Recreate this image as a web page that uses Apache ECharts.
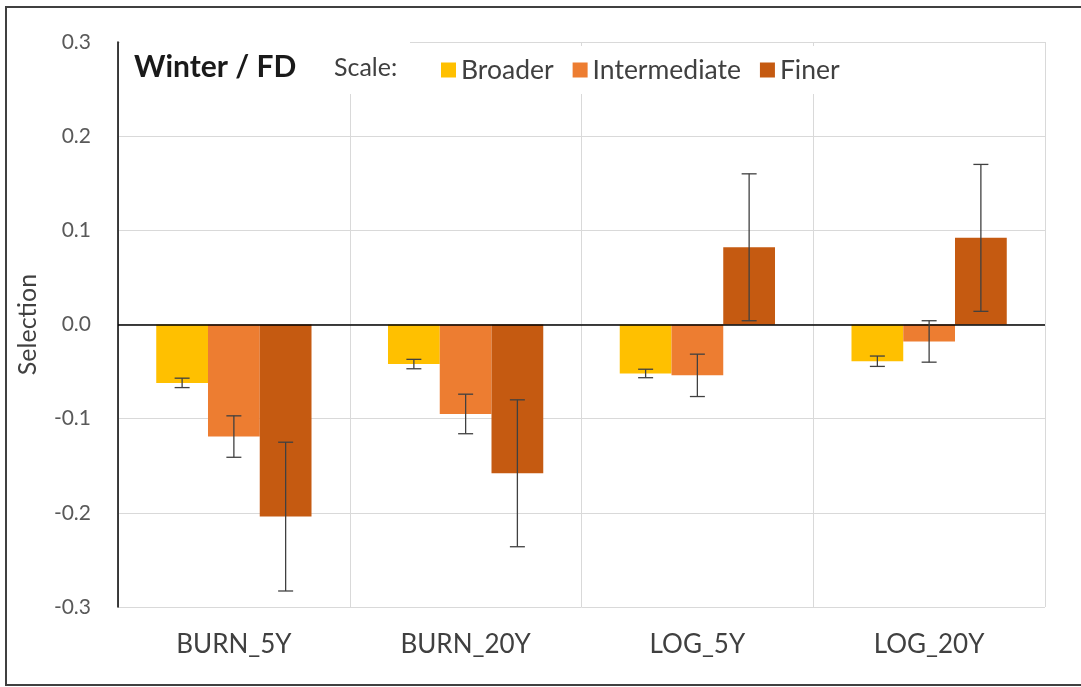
<!DOCTYPE html>
<html>
<head>
<meta charset="utf-8">
<script src="https://cdn.jsdelivr.net/npm/echarts@6/dist/echarts.min.js"></script>
<style>
  html, body { margin: 0; padding: 0; background: #ffffff; }
  #chart { width: 1081px; height: 687px; }
</style>
</head>
<body>
<div id="chart"></div>
<script>
// Habitat selection by treatment, three spatial scales (winter, FD)
const categories = ['BURN_5Y', 'BURN_20Y', 'LOG_5Y', 'LOG_20Y'];
const seriesNames = ['Broader', 'Intermediate', 'Finer'];

const broader = [-0.062, -0.042, -0.052, -0.039];
const broaderErr = [0.005, 0.005, 0.0045, 0.0055];

const intermediate = [-0.119, -0.095, -0.054, -0.018];
const intermediateErr = [0.022, 0.021, 0.0225, 0.022];

const finer = [-0.204, -0.158, 0.082, 0.092];
const finerErr = [0.079, 0.078, 0.078, 0.078];

const yTicks = [-0.3, -0.2, -0.1, 0.0, 0.1, 0.2, 0.3];

const colors = ['#FFC000', '#ED7D31', '#C55A11'];
const FONT = 'Lato, "Open Sans", sans-serif';
const CAT_GAP = 0.33;

const values = [broader, intermediate, finer];
const errors = [broaderErr, intermediateErr, finerErr];

// Error bars: vertical whisker with caps, offset to the matching bar in each group
function errorBarRenderer(pos) {
  return function (params, api) {
    const i = api.value(0);
    const v = api.value(1);
    const e = api.value(2);
    const catW = api.size([1, 0])[0];
    const bw = catW * (1 - CAT_GAP) / 3;
    const x = api.coord([i, v])[0] + (pos - 1) * bw;
    const yTop = api.coord([i, v + e])[1];
    const yBot = api.coord([i, v - e])[1];
    const cap = 7.5;
    const style = { stroke: '#404040', lineWidth: 1.3 };
    return {
      type: 'group',
      children: [
        { type: 'line', shape: { x1: x, y1: yTop, x2: x, y2: yBot }, style: style },
        { type: 'line', shape: { x1: x - cap, y1: yTop, x2: x + cap, y2: yTop }, style: style },
        { type: 'line', shape: { x1: x - cap, y1: yBot, x2: x + cap, y2: yBot }, style: style }
      ]
    };
  };
}

const barSeries = seriesNames.map(function (name, k) {
  const s = {
    name: name,
    type: 'bar',
    data: values[k],
    barGap: '0%',
    barCategoryGap: (CAT_GAP * 100) + '%',
    itemStyle: { color: colors[k] },
    z: 2
  };
  if (k === 0) {
    s.markLine = {
      silent: true,
      symbol: 'none',
      label: { show: false },
      lineStyle: { color: '#000000', width: 1.5, type: 'solid' },
      data: [{ yAxis: 0 }],
      z: 5
    };
  }
  return s;
});

const errSeries = seriesNames.map(function (name, k) {
  return {
    name: name + ' error',
    type: 'custom',
    renderItem: errorBarRenderer(k),
    data: categories.map(function (c, i) { return [i, values[k][i], errors[k][i]]; }),
    encode: { x: 0, y: 1 },
    z: 6,
    silent: true
  };
});

const chart = echarts.init(document.getElementById('chart'), null, { renderer: 'canvas' });

chart.setOption({
  animation: false,
  backgroundColor: '#ffffff',
  color: colors,
  grid: { left: 118, right: 36, top: 42, bottom: 80 },
  legend: {
    data: seriesNames,
    left: 441,
    top: 55,
    padding: 0,
    itemGap: 19,
    itemWidth: 15,
    itemHeight: 15,
    icon: 'rect',
    z: 120,
    textStyle: { fontFamily: FONT, fontSize: 26.5, color: '#404040', lineHeight: 30 }
  },
  xAxis: {
    type: 'category',
    data: categories,
    axisLine: { show: false, onZero: false },
    axisTick: { show: false },
    axisLabel: { fontFamily: FONT, fontSize: 26, color: '#404040', margin: 25 },
    splitLine: { show: true, interval: 0, lineStyle: { color: '#d9d9d9', width: 1 } }
  },
  yAxis: {
    type: 'value',
    min: yTicks[0],
    max: yTicks[yTicks.length - 1],
    interval: 0.1,
    name: 'Selection',
    nameLocation: 'middle',
    nameRotate: 90,
    nameGap: 78,
    nameTextStyle: { fontFamily: FONT, fontSize: 25, color: '#404040' },
    axisLine: { show: true, lineStyle: { color: '#000000', width: 1.5 } },
    axisTick: { show: false },
    axisLabel: {
      fontFamily: FONT, fontSize: 21, color: '#595959', margin: 27,
      formatter: function (v) { return v.toFixed(1); }
    },
    splitLine: { show: true, lineStyle: { color: '#d9d9d9', width: 1 } }
  },
  graphic: [
    // outer chart frame
    {
      type: 'polyline', z: 1, silent: true,
      shape: { points: [[1090, 7], [6, 7], [6, 685], [1090, 685]] },
      style: { stroke: '#404040', lineWidth: 2, fill: null }
    },
    // title and legend panels
    { type: 'rect', z: 100, silent: true, shape: { x: 120, y: 35, width: 290, height: 59 }, style: { fill: '#ffffff' } },
    { type: 'rect', z: 100, silent: true, shape: { x: 410, y: 46, width: 460, height: 48 }, style: { fill: '#ffffff' } },
    {
      type: 'text', z: 120, silent: true, left: 134, top: 52,
      style: { text: 'Winter / FD', font: 'bold 30px ' + FONT, fill: '#1a1a1a' }
    },
    {
      type: 'text', z: 120, silent: true, left: 334, top: 55,
      style: { text: 'Scale:', font: '25px ' + FONT, fill: '#404040' }
    }
  ],
  series: barSeries.concat(errSeries)
});
</script>
</body>
</html>
